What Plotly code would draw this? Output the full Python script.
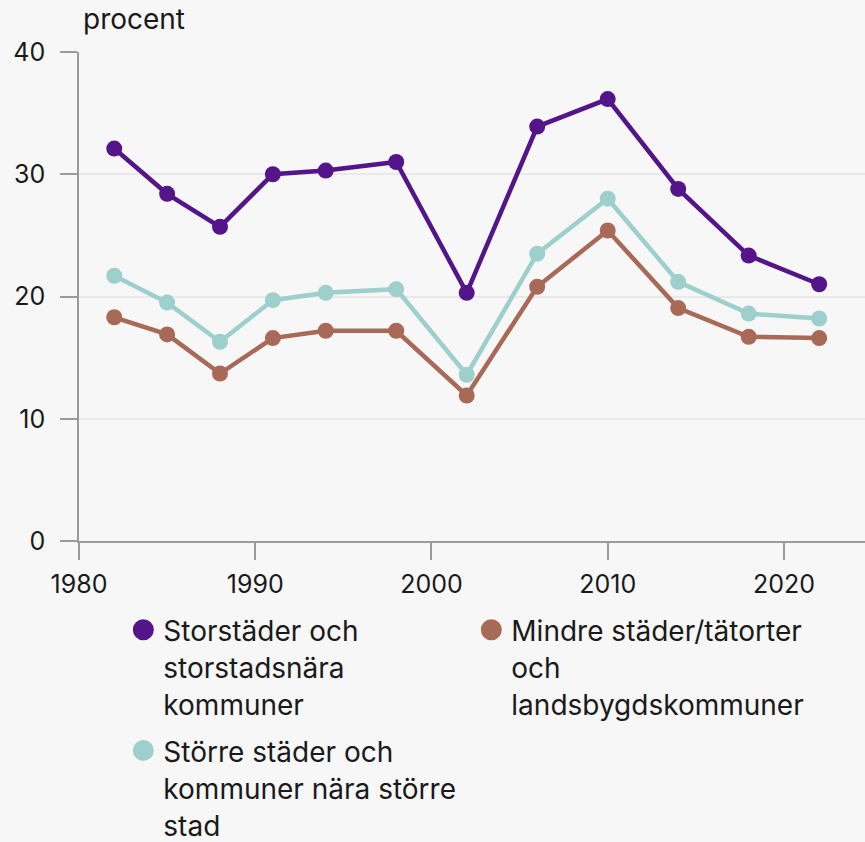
import plotly.graph_objects as go

years = [1982, 1985, 1988, 1991, 1994, 1998, 2002, 2006, 2010, 2014, 2018, 2022]
storstad = [32.1, 28.4, 25.7, 30.0, 30.3, 31.0, 20.3, 33.9, 36.15, 28.8, 23.35, 21.0]
storre = [21.7, 19.5, 16.3, 19.7, 20.3, 20.6, 13.6, 23.5, 28.0, 21.2, 18.6, 18.2]
mindre = [18.3, 16.9, 13.7, 16.6, 17.2, 17.2, 11.9, 20.8, 25.4, 19.05, 16.7, 16.6]

names = [
    ["Storstäder och", "storstadsnära", "kommuner"],
    ["Större städer och", "kommuner nära större", "stad"],
    ["Mindre städer/tätorter", "och", "landsbygdskommuner"],
]
colors = ["#54148a", "#9dcfcc", "#a86a57"]
series = [storstad, storre, mindre]
legend_ids = ["legend", "legend2", "legend"]
legend_rank = [1, 1, 2]

x_ticks = [1980, 1990, 2000, 2010, 2020]
y_ticks = [0, 10, 20, 30, 40]

FONT = "Inter, Roboto, sans-serif"
TXT = 28
TICK = 25

fig = go.Figure()
for vals, col in zip(series, colors):
    fig.add_trace(go.Scatter(
        x=years, y=vals, mode="lines+markers",
        line=dict(color=col, width=4.5),
        marker=dict(color=col, size=16),
        showlegend=False, hoverinfo="skip",
    ))
for col, nm, lg, rk in zip(colors, names, legend_ids, legend_rank):
    label = "<br>".join(f'<span style="font-size:{TXT}px">{t}</span>' for t in nm)
    fig.add_trace(go.Scatter(
        x=[None], y=[None], mode="markers",
        marker=dict(color=col, size=16, line=dict(color=col, width=5)),
        name=label, legend=lg, legendrank=rk, showlegend=True,
    ))

leg_common = dict(
    orientation="h", x=0.0564, xanchor="left", yanchor="top", yref="container",
    valign="top", font=dict(size=28.5, family=FONT, color="#1a1a1a"),
    entrywidth=303, entrywidthmode="pixels",
    bgcolor="rgba(0,0,0,0)", itemclick=False,
)

fig.update_layout(
    width=865, height=842,
    paper_bgcolor="#f7f7f7", plot_bgcolor="#f7f7f7",
    margin=dict(l=79, r=0, t=52, b=301, autoexpand=False),
    font=dict(family=FONT, size=TICK, color="#1a1a1a"),
    showlegend=True,
    legend=dict(y=0.2818, **leg_common),
    legend2=dict(y=0.1385, **leg_common),
    annotations=[dict(
        text="procent", xref="paper", yref="paper", x=0.0, y=1.0,
        xanchor="left", yanchor="bottom", showarrow=False, xshift=2, yshift=14,
        font=dict(size=TXT, family=FONT, color="#1a1a1a"),
    )],
)
fig.update_xaxes(
    range=[1980, 2024.6], tickvals=x_ticks, ticktext=[str(v) for v in x_ticks],
    showgrid=False, zeroline=False,
    showline=True, linecolor="#9a9a9a", linewidth=1.5,
    ticks="outside", ticklen=17, tickcolor="#9a9a9a", tickwidth=1.5,
    ticklabelstandoff=3, fixedrange=True,
)
fig.update_yaxes(
    range=[0, 40], tickvals=y_ticks, ticktext=[str(v) for v in y_ticks],
    showgrid=True, gridcolor="#e9e9e9", gridwidth=1.5, zeroline=False,
    showline=True, linecolor="#9a9a9a", linewidth=1.5,
    ticks="outside", ticklen=17, tickcolor="#9a9a9a", tickwidth=1.5,
    ticklabelstandoff=10, fixedrange=True,
)

fig.write_html(
    "out.html",
    config={"displayModeBar": False},
    post_script="document.body.style.margin='0';document.body.style.background='#f7f7f7';",
)
